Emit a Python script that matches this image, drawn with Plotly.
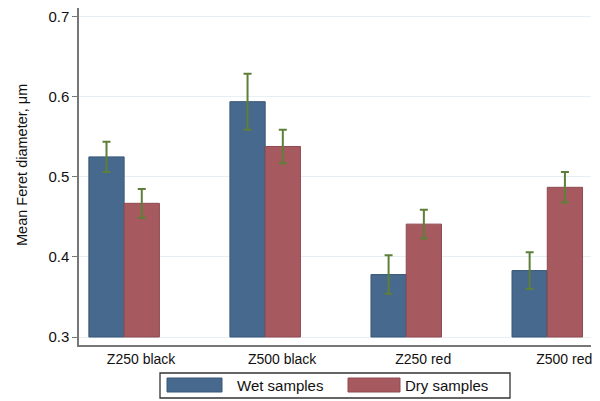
import plotly.graph_objects as go

categories = ["Z250 black", "Z500 black", "Z250 red", "Z500 red"]
series_names = ["Wet samples", "Dry samples"]
wet_values = [0.525, 0.594, 0.378, 0.383]
wet_errors = [0.019, 0.035, 0.024, 0.023]
dry_values = [0.467, 0.538, 0.441, 0.487]
dry_errors = [0.018, 0.021, 0.018, 0.019]
y_ticks = [0.3, 0.4, 0.5, 0.6, 0.7]
y_title = "Mean Feret diameter, μm"

colors = ["#46698d", "#a65a60"]
edge = ["#3a5878", "#8e4a50"]
err_color = "#5e7f38"

xpos = list(range(len(categories)))

fig = go.Figure()
for name, vals, errs, c, e in [
    (series_names[0], wet_values, wet_errors, colors[0], edge[0]),
    (series_names[1], dry_values, dry_errors, colors[1], edge[1]),
]:
    fig.add_trace(go.Bar(
        x=xpos, y=[v - 0.3 for v in vals], base=0.3, name=name,
        marker=dict(color=c, line=dict(color=e, width=1)),
        error_y=dict(type="data", array=errs, color=err_color, thickness=2, width=4),
        showlegend=False,
    ))

W, H = 600, 401
L, R, T, B = 79, 9, 8, 56
pw, ph = W - L - R, H - T - B

def px_x(x):
    return (x - L) / pw

def px_y(y):
    return (H - B - y) / ph

shapes = []
annotations = []
# legend box
shapes.append(dict(type="rect", xref="paper", yref="paper",
                   x0=px_x(160), x1=px_x(510), y0=px_y(398), y1=px_y(373),
                   line=dict(color="#333", width=1.3), fillcolor="white"))
sw = [(167, 222, 237), (348, 400, 405)]
for i, (a, b, t) in enumerate(sw):
    shapes.append(dict(type="rect", xref="paper", yref="paper",
                       x0=px_x(a), x1=px_x(b), y0=px_y(392), y1=px_y(378),
                       line=dict(color=edge[i], width=1), fillcolor=colors[i]))
    annotations.append(dict(xref="paper", yref="paper", x=px_x(t), y=px_y(385.5),
                            text=series_names[i], showarrow=False, xanchor="left",
                            yanchor="middle", xshift=-2, font=dict(size=15, color="#111")))

annotations.append(dict(xref="paper", yref="paper", x=px_x(22), y=px_y(165),
                        text=y_title, showarrow=False, textangle=-90,
                        xanchor="center", yanchor="middle", font=dict(size=14.5, color="#111")))

fig.update_layout(
    width=W, height=H,
    margin=dict(l=L, r=R, t=T, b=B),
    paper_bgcolor="white", plot_bgcolor="white",
    barmode="group", bargap=0.5, bargroupgap=0,
    font=dict(family="Liberation Sans, Arial, sans-serif", color="#111"),
    shapes=shapes, annotations=annotations,
    xaxis=dict(range=[-0.32, 3.31], showline=True, linecolor="#777", linewidth=1.5,
               tickvals=[p + 0.12 for p in xpos], ticktext=categories,
               ticks="", tickfont=dict(size=14), showgrid=False, zeroline=False,
               fixedrange=True),
    yaxis=dict(range=[0.29, 0.711], tickvals=y_ticks, ticktext=[f"{v:.1f}" for v in y_ticks],
               showline=True, linecolor="#777", linewidth=1.5, ticks="outside",
               ticklen=5, tickcolor="#777", tickfont=dict(size=15),
               showgrid=True, gridcolor="#e6eff3", gridwidth=1, zeroline=False),
)

fig.write_html("out.html")
